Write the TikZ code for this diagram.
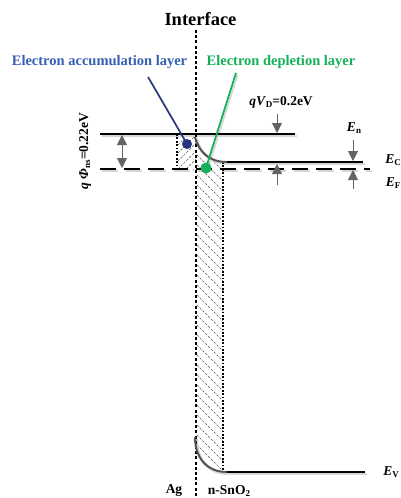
\documentclass[tikz,border=0pt]{standalone}
\usepackage{fontspec}
\setmainfont{Liberation Serif}
\usetikzlibrary{arrows.meta}
\definecolor{accblue}{RGB}{52,96,178}
\definecolor{navyline}{RGB}{40,52,128}
\definecolor{depgreen}{RGB}{20,176,90}
\definecolor{curvegray}{RGB}{85,85,85}
\definecolor{arrgray}{RGB}{100,100,100}
\newcommand{\lvlE}[1]{\textbf{\textit{E}}\raisebox{-0.35ex}{\fontsize{9}{10}\selectfont\bfseries #1}}
\begin{document}
\begin{tikzpicture}[x=1pt,y=-1pt,
  level/.style={line width=2pt, black},
  shadowline/.style={line width=2.6pt, black!16},
  bandbend/.style={line width=2pt, curvegray},
  garrow/.style={arrgray, line width=0.9pt, -{Triangle[width=10pt,length=10pt]}},
  gdarrow/.style={arrgray, line width=0.9pt, {Triangle[width=10pt,length=10pt]}-{Triangle[width=10pt,length=10pt]}},
  hatch/.style={black!65, line width=0.5pt, dash pattern=on 2.5pt off 1.5pt},
  txt/.style={font=\bfseries, inner sep=0pt},
  big/.style={txt, font=\bfseries\fontsize{18.5}{20}\selectfont},
  mid/.style={txt, font=\bfseries\fontsize{14.5}{16}\selectfont},
  sml/.style={txt, font=\bfseries\fontsize{13.5}{15}\selectfont}]
\useasboundingbox (0,0) rectangle (400,498);

% hatched regions
\begin{scope}
  \clip (177,134) rectangle (196,169);
  \foreach \k in {0,...,9} \draw[hatch] (175,140+\k*8) -- ++(26,-26);
\end{scope}
\begin{scope}
  \clip (196,138) .. controls (200,152) and (209,162) .. (223,162) -- (223,470)
        -- (210,470) .. controls (200,462) and (196,452) .. (196,437) -- cycle;
  \foreach \k in {0,...,36} \draw[hatch] (194,112+\k*10) -- ++(32,32);
\end{scope}

% shadows
\begin{scope}[shift={(1.6,1.8)}]
  \draw[shadowline] (100,134) -- (295,134);
  \draw[shadowline] (227,162) -- (363,162);
  \draw[shadowline] (227,472) -- (365,472);
  \draw[shadowline] (195,137) .. controls (199,152) and (209,162) .. (227,162);
  \draw[shadowline] (195,437) .. controls (195,458) and (207,472) .. (227,472);
  \draw[shadowline, dash pattern=on 16pt off 8pt] (100,169) -- (370,169);
  \draw[black!16, line width=1.6pt] (148,77) -- (187,144);
  \draw[black!16, line width=1.6pt] (236,73) -- (206,168);
\end{scope}

% interface and dotted limits
\draw[black, line width=2.8pt, dash pattern=on 3pt off 2.2pt] (196,30) -- (196,498);
\draw[black, line width=1.2pt, dash pattern=on 1.8pt off 1.6pt] (223,162) -- (223,472);
\draw[black, line width=1.2pt, dash pattern=on 1.8pt off 1.6pt] (177,134) -- (177,169);

% levels
\draw[level] (100,134) -- (295,134);
\draw[level] (227,162) -- (363,162);
\draw[level] (227,472) -- (365,472);
\draw[level, dash pattern=on 16pt off 8pt] (100,169) -- (370,169);
\draw[bandbend] (195,137) .. controls (199,152) and (209,162) .. (227,162);
\draw[bandbend] (195,437) .. controls (195,458) and (207,472) .. (227,472);

% arrows
\coordinate (qa1) at (122,135);
\coordinate (qa2) at (122,168);
\draw[gdarrow] (qa1) -- (qa2);
\coordinate (vd1) at (277,114);
\coordinate (vd2) at (277,133);
\draw[garrow] (vd1) -- (vd2);
\coordinate (vd3) at (277,185);
\coordinate (vd4) at (277,164);
\draw[garrow] (vd3) -- (vd4);
\coordinate (en1) at (353,140);
\coordinate (en2) at (353,161);
\draw[garrow] (en1) -- (en2);
\coordinate (en3) at (353,189);
\coordinate (en4) at (353,170);
\draw[garrow] (en3) -- (en4);

% pointers
\node[circle, fill=navyline, minimum size=10pt, inner sep=0pt] (bdot) at (187,144) {};
\node[circle, fill=depgreen, minimum size=11pt, inner sep=0pt] (gdot) at (206,168) {};
\coordinate (bstart) at (148,77);
\coordinate (gstart) at (236,73);
\draw[navyline, line width=1.6pt] (bstart) -- (bdot.center);
\draw[depgreen, line width=1.8pt] (gstart) -- (gdot.center);

% texts
\node[big] (title) at (200.5,19) {Interface};
\node[mid, text=accblue] (acc) at (99.5,62) {Electron accumulation layer};
\node[mid, text=depgreen] (dep) at (281,62) {Electron depletion layer};
\node[sml] (qvd) at (281,102) {\textit{qV}\raisebox{-0.35ex}{\fontsize{9}{10}\selectfont D}=0.2eV};
\node[sml, rotate=90] (phi) at (85,151) {\textit{q Φ}\raisebox{-0.35ex}{\fontsize{9}{10}\selectfont ns}=0.22eV};
\node[sml] (En) at (354,128) {\lvlE{n}};
\node[sml] (EC) at (393,160) {\lvlE{C}};
\node[sml] (EF) at (393,183) {\lvlE{F}};
\node[sml] (EV) at (391,472) {\lvlE{V}};
\node[sml] (ag) at (174,491) {Ag};
\node[sml] (sno) at (229,491) {n-SnO\raisebox{-0.35ex}{\fontsize{9}{10}\selectfont 2}};
\end{tikzpicture}
\end{document}
